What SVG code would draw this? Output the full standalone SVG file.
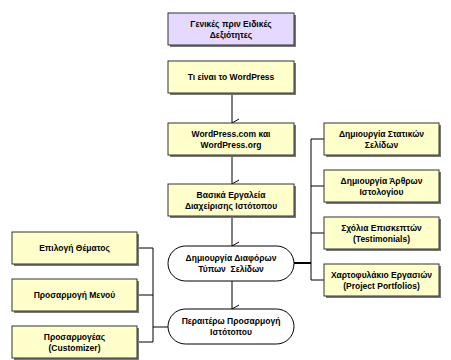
<svg xmlns="http://www.w3.org/2000/svg" width="451" height="360" viewBox="0 0 451 360">
<defs>
<style>
.bx{fill:#ffffcc;stroke:#333;stroke-width:1}
.pu{fill:#e6d9ff;stroke:#333;stroke-width:1}
.sh{fill:#777}
.el{fill:#fff;stroke:#000;stroke-width:1}
.t{font-family:"Liberation Sans",Arial,sans-serif;font-weight:bold;font-size:8.5px;text-anchor:middle;fill:#000}
.ln{fill:none;stroke:#000;stroke-width:1}
.th{fill:none;stroke:#000;stroke-width:2}
</style>
<marker id="ah" markerWidth="10" markerHeight="10" refX="5" refY="8" orient="auto" markerUnits="userSpaceOnUse" viewBox="0 0 10 10">
<path d="M1,1 L5,8 L9,1" fill="none" stroke="#000" stroke-width="1"/>
</marker>
</defs>
<rect width="451" height="360" fill="#fff"/>
<g id="connectors">
<line class="ln" x1="232" y1="93" x2="232" y2="123" marker-end="url(#ah)"/>
<line class="ln" x1="232" y1="155" x2="232" y2="184" marker-end="url(#ah)"/>
<line class="ln" x1="232" y1="216" x2="232" y2="246" marker-end="url(#ah)"/>
<line class="ln" x1="232" y1="281" x2="232" y2="309" marker-end="url(#ah)"/>
<path class="ln" d="M324,139 H311 V280 H324 M311,186 H324 M311,233 H324"/>
<line class="th" x1="294" y1="263" x2="311" y2="263"/>
<path class="ln" d="M137,248 H153 V342 H137 M137,295 H153"/>
<line class="ln" x1="153" y1="327" x2="168" y2="327"/>
</g>
<g id="n1">
<rect class="sh" x="170" y="15" width="126" height="32"/>
<rect class="pu" x="168" y="13" width="126" height="32"/>
<text class="t" x="231" y="27">Γενικές πριν Ειδικές</text>
<text class="t" x="231" y="38">Δεξιότητες</text>
</g>
<g id="n2">
<rect class="sh" x="170" y="63" width="126" height="32"/>
<rect class="bx" x="168" y="61" width="126" height="32"/>
<text class="t" x="231" y="80">Τι είναι το WordPress</text>
</g>
<g id="n3">
<rect class="sh" x="170" y="125" width="126" height="32"/>
<rect class="bx" x="168" y="123" width="126" height="32"/>
<text class="t" x="231" y="137">WordPress.com και</text>
<text class="t" x="231" y="148">WordPress.org</text>
</g>
<g id="n4">
<rect class="sh" x="170" y="186" width="126" height="32"/>
<rect class="bx" x="168" y="184" width="126" height="32"/>
<text class="t" x="231" y="198">Βασικά Εργαλεία</text>
<text class="t" x="231" y="209">Διαχείρισης Ιστότοπου</text>
</g>
<g id="n5">
<rect class="el" x="168" y="246" width="126" height="35" rx="17.5"/>
<text class="t" x="231" y="261">Δημιουργία Διαφόρων</text>
<text class="t" x="231" y="272" style="white-space:pre">Τύπων  Σελίδων</text>
</g>
<g id="n6">
<rect class="el" x="168" y="309" width="126" height="35" rx="17.5"/>
<text class="t" x="231" y="324">Περαιτέρω Προσαρμογή</text>
<text class="t" x="231" y="335">Ιστότοπου</text>
</g>
<g id="n7">
<rect class="sh" x="326" y="125" width="115" height="32"/>
<rect class="bx" x="324" y="123" width="115" height="32"/>
<text class="t" x="381.5" y="137">Δημιουργία Στατικών</text>
<text class="t" x="381.5" y="148">Σελίδων</text>
</g>
<g id="n8">
<rect class="sh" x="326" y="172" width="115" height="32"/>
<rect class="bx" x="324" y="170" width="115" height="32"/>
<text class="t" x="381.5" y="184">Δημιουργία Άρθρων</text>
<text class="t" x="381.5" y="195">Ιστολογίου</text>
</g>
<g id="n9">
<rect class="sh" x="326" y="219" width="115" height="32"/>
<rect class="bx" x="324" y="217" width="115" height="32"/>
<text class="t" x="381.5" y="231">Σχόλια Επισκεπτών</text>
<text class="t" x="381.5" y="242">(Testimonials)</text>
</g>
<g id="n10">
<rect class="sh" x="326" y="266" width="115" height="32"/>
<rect class="bx" x="324" y="264" width="115" height="32"/>
<text class="t" x="381.5" y="278">Χαρτοφυλάκιο Εργασιών</text>
<text class="t" x="381.5" y="289">(Project Portfolios)</text>
</g>
<g id="n11">
<rect class="sh" x="14" y="234" width="125" height="32"/>
<rect class="bx" x="12" y="232" width="125" height="32"/>
<text class="t" x="74.5" y="251">Επιλογή Θέματος</text>
</g>
<g id="n12">
<rect class="sh" x="14" y="281" width="125" height="32"/>
<rect class="bx" x="12" y="279" width="125" height="32"/>
<text class="t" x="74.5" y="298">Προσαρμογή Μενού</text>
</g>
<g id="n13">
<rect class="sh" x="14" y="328" width="125" height="32"/>
<rect class="bx" x="12" y="326" width="125" height="32"/>
<text class="t" x="74.5" y="340">Προσαρμογέας</text>
<text class="t" x="74.5" y="351">(Customizer)</text>
</g>
</svg>
